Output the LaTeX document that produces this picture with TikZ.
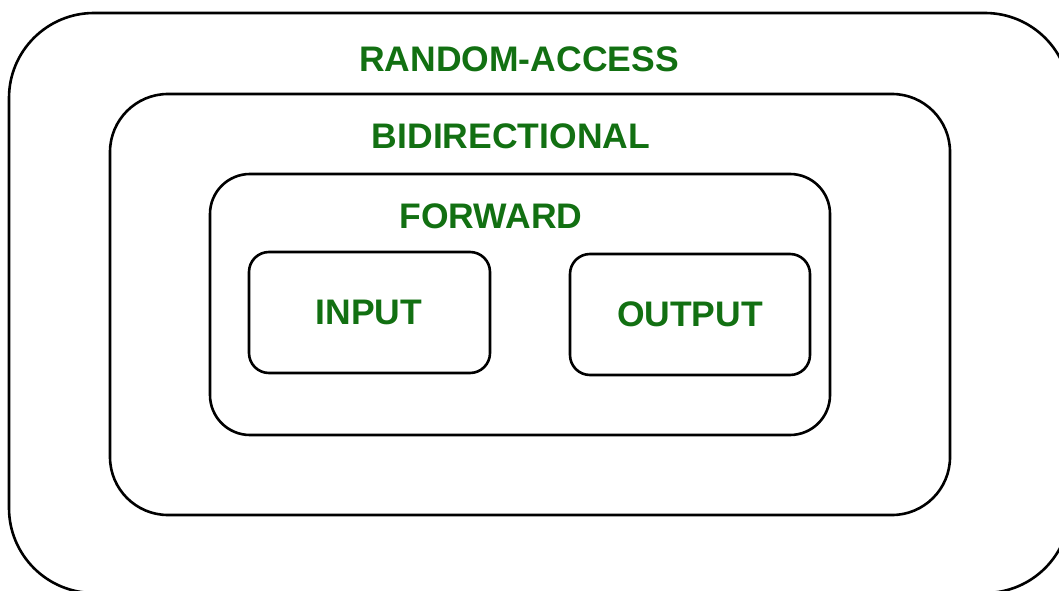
\documentclass[tikz,border=0pt]{standalone}
\usepackage{fontspec}
\setmainfont{Liberation Sans}
\definecolor{lblgreen}{RGB}{18,112,18}
\begin{document}
\begin{tikzpicture}[x=1pt,y=-1pt,
  box/.style={draw=black,line width=2.6pt,inner sep=0pt},
  lbl/.style={text=lblgreen,font=\fontsize{35.5}{40}\selectfont\bfseries,anchor=base,inner sep=0pt}]
\useasboundingbox (0,0) rectangle (1059,591);
\clip (0,0) rectangle (1059,591);
\fill[white] (0,0) rectangle (1059,591);
\node[box,rounded corners=85pt,minimum width=1061pt,minimum height=580pt] (ra) at (539.5,303) {};
\node[box,rounded corners=58pt,minimum width=840pt,minimum height=421pt] (bi) at (530,304.5) {};
\node[box,rounded corners=40pt,minimum width=620pt,minimum height=261pt] (fw) at (520,304.5) {};
\node[box,rounded corners=20pt,minimum width=241pt,minimum height=121pt] (in) at (369.5,312.5) {};
\node[box,rounded corners=20pt,minimum width=240pt,minimum height=121pt] (out) at (690,314.5) {};
\node[lbl] (tra) at (519,72) {RANDOM-ACCESS};
\node[lbl] (tbi) at (511,148) {BIDIRECTIONAL};
\node[lbl] (tfw) at (491,228) {FORWARD};
\node[lbl] (tin) at (369,324) {INPUT};
\node[lbl] (tout) at (690,326) {OUTPUT};
\end{tikzpicture}
\end{document}
